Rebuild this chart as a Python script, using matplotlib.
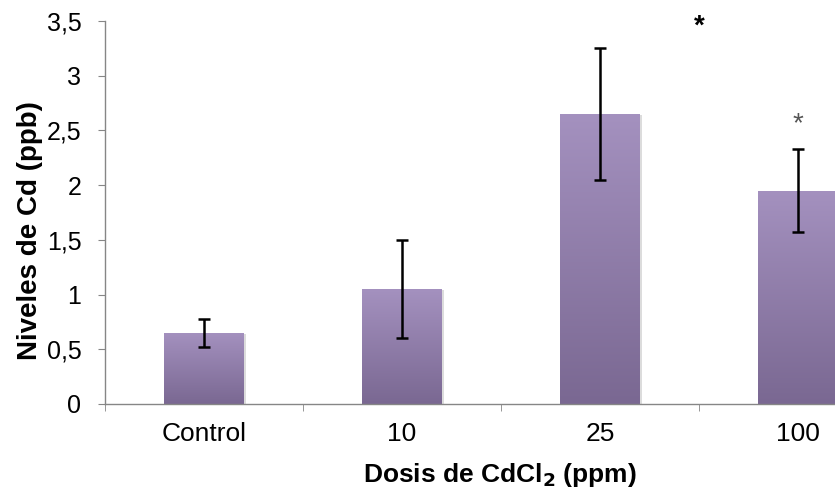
import numpy as np
import matplotlib

matplotlib.use("Agg")
import matplotlib.pyplot as plt
from matplotlib.colors import LinearSegmentedColormap

categories = ["Control", "10", "25", "100"]
levels = [0.65, 1.05, 2.65, 1.95]
errors = [0.13, 0.45, 0.60, 0.38]
yticks = [0, 0.5, 1, 1.5, 2, 2.5, 3, 3.5]
ytick_labels = ["0", "0,5", "1", "1,5", "2", "2,5", "3", "3,5"]

plt.rcParams["font.family"] = ["Liberation Sans", "DejaVu Sans"]

fig = plt.figure(figsize=(8.35, 4.91), dpi=100)
# axes run past the right edge: the last category is cut off like in the source
ax = fig.add_axes([0.1257, 0.1772, 0.9485, 0.780])

x = np.arange(len(categories))
bars = ax.bar(x, levels, width=0.4, color="none", edgecolor="none", zorder=2)

cmap = LinearSegmentedColormap.from_list("purple", ["#7a6892", "#a491bf"])
grad = np.linspace(0, 1, 256).reshape(-1, 1)
for bar in bars:
    x0, y0 = bar.get_x(), bar.get_y()
    w, h = bar.get_width(), bar.get_height()
    # soft shadow on the right
    ax.bar(x0 + w / 2 + 0.012, h, width=w, bottom=y0 - 0.012, color="#dcdcdc",
           zorder=1, edgecolor="none")
    img = ax.imshow(grad, extent=[x0, x0 + w, y0, y0 + h], origin="lower",
                    cmap=cmap, aspect="auto", zorder=2)
    img.set_clip_path(bar)

ax.errorbar(x, levels, yerr=errors, fmt="none", ecolor="black", elinewidth=1.8,
            capsize=4.5, capthick=1.8, zorder=3)

ax.text(2.5, 3.45, "*", ha="center", va="center", fontsize=20, fontweight="bold",
        color="black")
ax.text(3, 2.56, "*", ha="center", va="center", fontsize=20, color="#555555")

ax.set_xlim(-0.5, 3.5)
ax.set_ylim(0, 3.5)
ax.set_yticks(yticks)
ax.set_yticklabels(ytick_labels, fontsize=18)
ax.set_xticks(x)
ax.set_xticklabels(categories, fontsize=19)
ax.set_xticks(np.arange(-0.5, 4.0, 1.0), minor=True)
ax.tick_params(axis="x", which="major", length=0, pad=13)
ax.tick_params(axis="x", which="minor", length=5, color="#868686")
ax.tick_params(axis="y", length=5, color="#868686", pad=12)

for side in ["top", "right"]:
    ax.spines[side].set_visible(False)
for side in ["left", "bottom"]:
    ax.spines[side].set_color("#868686")
    ax.spines[side].set_linewidth(1.0)

fig.text(0.0359, 0.5295, "Niveles de Cd (ppb)", rotation=90, ha="center",
         va="center", fontsize=20, fontweight="bold")
fig.text(0.599, 0.0183, r"Dosis de CdCl$_\mathbf{2}$ (ppm)", ha="center", va="baseline",
         fontsize=19, fontweight="bold")

fig.savefig("out.png", dpi=100)
